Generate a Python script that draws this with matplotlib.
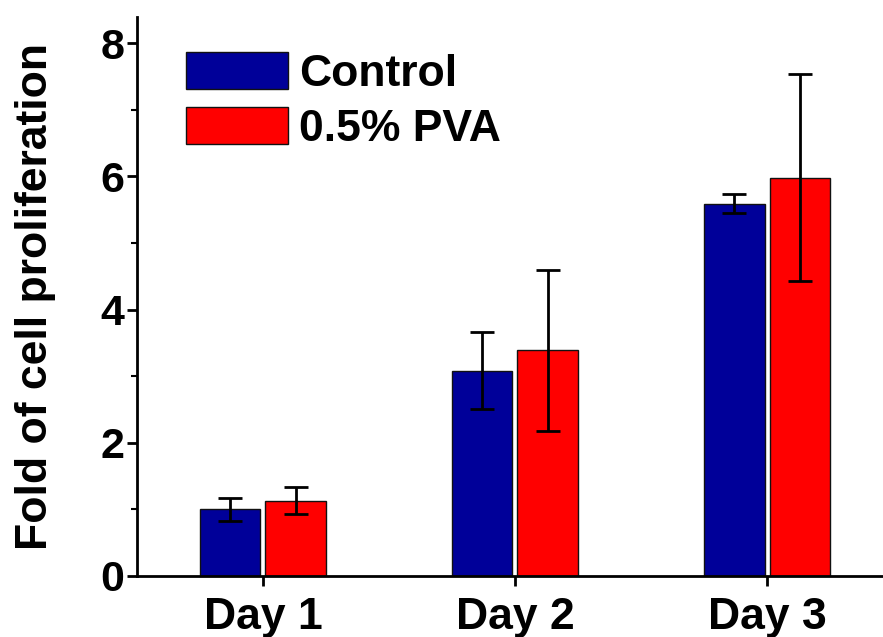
import numpy as np
import matplotlib.pyplot as plt
from matplotlib.ticker import MultipleLocator

# values
days = ["Day 1", "Day 2", "Day 3"]
control = [1.00, 3.08, 5.59]
control_err = [0.17, 0.58, 0.14]
pva = [1.13, 3.39, 5.98]
pva_err = [0.20, 1.21, 1.55]

plt.rcParams['font.family'] = ['Liberation Sans', 'DejaVu Sans']
plt.rcParams['font.weight'] = 'bold'

fig = plt.figure(figsize=(8.83, 6.37), dpi=100)
ax = fig.add_axes([0.155, 0.096, 0.845, 0.877])

x = np.arange(1, len(days) + 1)
w = 0.24
off = 0.13
err_kw = dict(ecolor='black', elinewidth=2, capsize=8.5, capthick=2)
ax.bar(x - off, control, w, yerr=control_err, color='#000099', edgecolor='#111111',
       linewidth=1, label='Control', error_kw=err_kw)
ax.bar(x + off, pva, w, yerr=pva_err, color='#ff0000', edgecolor='#111111',
       linewidth=1, label='0.5% PVA', error_kw=err_kw)

ax.set_xlim(0.5, 3.46)
ax.set_ylim(0, 8.39)
ax.set_xticks(x)
ax.set_xticklabels(days)
ax.yaxis.set_major_locator(MultipleLocator(2))
ax.yaxis.set_minor_locator(MultipleLocator(1))

for s in ['top', 'right']:
    ax.spines[s].set_visible(False)
for s in ['left', 'bottom']:
    ax.spines[s].set_linewidth(2)

ax.tick_params(axis='both', which='major', direction='out', length=7, width=2,
               labelsize=31, pad=2)
ax.tick_params(axis='y', which='minor', direction='out', length=4, width=1.5)
ax.tick_params(axis='x', labelsize=32, pad=8)
ax.set_ylabel("Fold of cell proliferation", fontsize=32, fontweight='bold', labelpad=32)

ax.legend(loc='upper left', bbox_to_anchor=(0.042, 0.97), frameon=False, fontsize=32,
          handlelength=2.3, handleheight=0.9, handletextpad=0.25, labelspacing=0.28,
          borderaxespad=0)

fig.savefig("out.png", dpi=100)
